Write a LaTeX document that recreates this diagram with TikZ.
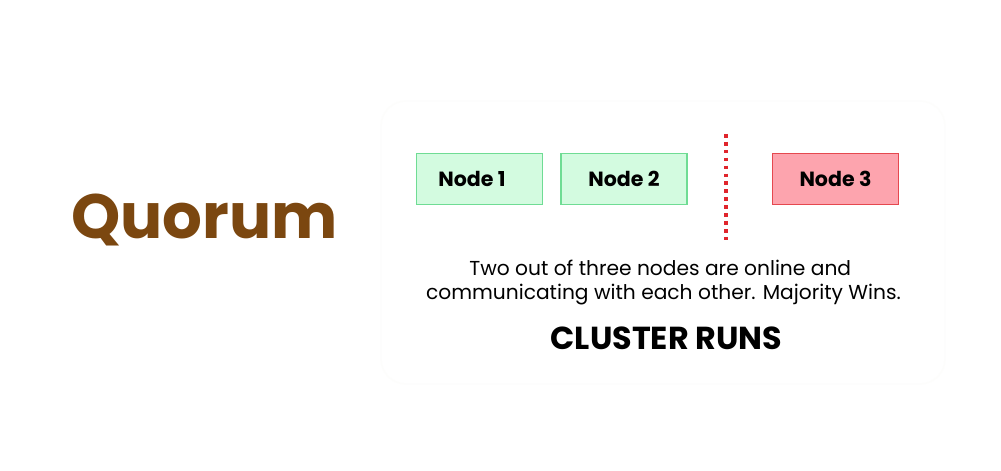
\documentclass[tikz,border=0pt]{standalone}
\usepackage{fontspec}
\setmainfont{Poppins}
\definecolor{upgreen}{HTML}{D3FBE0}
\definecolor{upgreenline}{HTML}{6FDC94}
\definecolor{downred}{HTML}{FDA4AE}
\definecolor{downredline}{HTML}{E5484F}
\definecolor{splitred}{HTML}{E0252C}
\definecolor{quorumbrown}{HTML}{7B4710}
\definecolor{panelline}{HTML}{FDFDFC}
\tikzset{
  nodebox/.style={draw,line width=.9pt,minimum width=2.52cm,minimum height=1.02cm,inner sep=0pt,font=\fontsize{11.7}{14}\selectfont\bfseries},
  upnode/.style={nodebox,draw=upgreenline,fill=upgreen},
  downnode/.style={nodebox,draw=downredline,fill=downred},
  bodytext/.style={align=center,font=\fontsize{11.5}{13.9}\selectfont}
}
\begin{document}
\begin{tikzpicture}
\useasboundingbox[fill=white](0,0)rectangle(20.02,9.42);
\draw[panelline,line width=.8pt,rounded corners=.5cm](7.62,1.74)rectangle(18.9,7.4);
\node[font=\fontsize{35.6}{42}\selectfont\bfseries,text=quorumbrown] (title) at (4.09,5.03){Quorum};
\node[upnode] (node1) at (9.59,5.84){\hspace*{-.3cm}Node 1};
\node[upnode] (node2) at (12.48,5.84){Node 2};
\node[downnode] (node3) at (16.71,5.84){Node 3};
\coordinate (splittop) at (14.52,6.74);
\coordinate (splitbottom) at (14.52,4.62);
\draw[splitred,line width=2pt,dash pattern=on 2.1pt off 2.4pt](splittop)--(splitbottom);
\node[bodytext] (message) at (13.27,3.77){\hspace*{-.13cm}Two out of three nodes are online and\\communicating with each other. Majority Wins.};
\node[font=\fontsize{18.1}{22}\selectfont\bfseries] (status) at (13.33,2.66){CLUSTER RUNS};
\end{tikzpicture}
\end{document}
